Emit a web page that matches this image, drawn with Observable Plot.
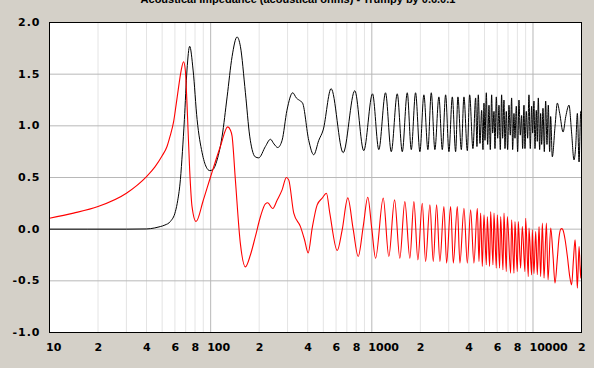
<!DOCTYPE html>
<html><head><meta charset="utf-8">
<script src="https://cdn.jsdelivr.net/npm/d3@7"></script>
<script src="https://cdn.jsdelivr.net/npm/@observablehq/plot@0.6"></script>
<style>
html,body{margin:0;padding:0;background:#d4d0c8;}
#chart{width:594px;height:368px;overflow:hidden;}
#chart svg{display:block;}
#chart g[aria-label="y-axis tick label"] text{letter-spacing:1px;}
</style></head><body><div id="chart"></div>
<script>
const titleText = "Acoustical Impedance (acoustical ohms) - Trumpy by 0.6.0.1";

const xTicks = [10,20,40,60,80,100,200,400,600,800,1000,2000,4000,6000,8000,10000,20000];
const xTickLabels = ["10","2","4","6","8","100","2","4","6","8","1000","2","4","6","8","10000","2"];
const yTicks = [-1,-0.5,0,0.5,1,1.5,2];
const yTickLabels = ["-1.0","-0.5","0.0","0.5","1.0","1.5","2.0"];
const xMinorGrid = [20,30,40,50,60,70,80,90,200,300,400,500,600,700,800,900,2000,3000,4000,5000,6000,7000,8000,9000];
const xMajorGrid = [100,1000,10000];

// black curve: [frequency Hz, value]
const blackCurve = [
[10,0],[30,0],[40,0.002],[45,0.012],[48.7,0.025],[52,0.04],[56.2,0.074],[60.4,0.17],[62.5,0.28],[64.9,0.48],
[66.8,0.75],[68.7,1.06],[71.3,1.54],[74.1,1.77],[77.8,1.54],[82.4,1.06],[88.5,0.74],[94,0.6],[98.6,0.567],[103,0.575],
[109.6,0.67],[117.8,0.9],[126.5,1.28],[135.8,1.67],[145.8,1.86],[152.9,1.77],[164.3,1.32],[174.7,0.9],[180.8,0.77],[189,0.7],
[198.7,0.69],[218.6,0.8],[234.9,0.87],[247,0.825],[260.7,0.79],[277.5,0.86],[297.4,1.15],[323,1.32],[340,1.27],[360.7,1.24],
[372,1.22],[406,0.86],[436,0.72],[468.7,0.86],[499,0.96],[559,1.36],[664,0.74],[784,1.34],[891,0.76],[1010,1.31],
[1105,0.77],[1216,1.32],[1320,0.75],[1438,1.31],[1545,0.75],[1659,1.32],[1757,0.77],[1868,1.32],[1987,0.75],[2104,1.3],
[2228,0.77],[2338,1.32],[2462,0.77],[2607,1.28],[2737,0.77],[2870,1.3],[3009,0.75],[3158,1.28],[3311,0.75],[3421,1.28],
[3592,0.77],[3729,1.28],[3913,0.76],[4045,1.3],[4240,0.78],[4407,1.27],[4490,0.8],[4578,1.3],[4689,0.83],[4802,1.15],
[4895,0.77],[4965,1.22],[5037,0.86],[5134,1.32],[5232,0.82],[5333,1.2],[5435,0.77],[5540,1.3],[5620,0.93],[5727,1.14],
[5810,0.78],[5922,1.28],[6035,0.88],[6151,1.2],[6269,0.77],[6389,1.3],[6482,0.88],[6606,1.25],[6702,0.78],[6830,1.14],
[6962,0.77],[7095,1.2],[7231,0.91],[7370,1.27],[7477,0.77],[7621,1.12],[7731,0.88],[7879,1.19],[8031,0.75],[8185,1.25],
[8342,0.91],[8502,1.1],[8625,0.78],[8791,1.2],[8918,0.78],[9089,1.14],[9264,0.88],[9442,1.3],[9623,0.78],[9808,1.19],
[9950,0.93],[10141,1.24],[10288,0.78],[10485,1.15],[10637,0.85],[10791,1.27],[10998,0.77],[11158,1.12],[11319,0.82],[11536,1.17],
[11758,0.75],[11984,1.24],[12214,0.82],[12448,1.2],[12690,0.75],[12870,1.09],[13180,0.7],[13696,0.99],[14164,1.22],[14650,1.12],
[15374,0.94],[15971,1.09],[16729,1.2],[17368,0.93],[17964,0.67],[18404,0.8],[18853,1.12],[19316,0.65],[19787,1.14],[20000,1.13]
];

// red curve: [frequency Hz, value]
const redCurve = [
[10,0.106],[14.1,0.155],[20,0.219],[30,0.348],[40,0.509],[45,0.6],[50,0.71],[53.6,0.8],[56,0.9],[58.9,1.04],
[61,1.2],[63.3,1.38],[65.5,1.53],[67.9,1.62],
[69.6,1.54],[71.3,1.22],[74.1,0.57],[76.6,0.22],[81.1,0.074],[90,0.28],[100,0.51],[114.9,0.8],[127.5,0.99],[132.5,0.96],
[135.8,0.9],[142.3,0.48],[152.9,-0.14],[164.3,-0.365],[176.4,-0.25],[189.5,-0.07],[203.6,0.12],[218.6,0.245],[226,0.255],[242.7,0.2],
[258.4,0.28],[277.5,0.38],[295,0.5],[305,0.477],[327.8,0.155],[360.7,0.025],[382,-0.1],[402.7,-0.23],[426.5,0.01],[458,0.235],
[492,0.3],[523,0.348],[548.6,0.155],[610,-0.207],[654.7,-0.007],[709.6,0.303],[766,0],[823,-0.265],[885,0.03],[944,0.309],
[1000,0],[1055,-0.281],[1177,0.3],[1275,-0.265],[1384,0.283],[1492,-0.281],[1603,0.267],[1722,-0.281],[1824,0.267],[1931,-0.297],
[2056,0.251],[2156,-0.313],[2293,0.235],[2406,-0.313],[2523,0.235],[2645,-0.313],[2801,0.219],[2911,-0.329],[3083,0.219],[3204,-0.329],
[3392,0.219],[3521,-0.329],[3729,0.203],[3913,-0.329],[4103,0.187],[4300,-0.329],[4515,0.203],[4622,-0.313],[4734,0.155],[4848,-0.361],
[4965,0.138],[5134,-0.345],[5207,0.122],[5384,-0.361],[5460,0.17],[5647,-0.345],[5727,0.155],[5922,-0.377],[6006,0.138],[6210,-0.377],
[6300,0.122],[6513,-0.393],[6606,0.155],[6830,-0.41],[6930,0.122],[7266,-0.426],[7370,0.09],[7621,-0.426],[7731,0.074],[7993,-0.41],
[8107,0.074],[8381,-0.377],[8584,0.025],[8918,-0.41],[9002,0.106],[9352,-0.458],[9442,0.01],[9808,-0.442],[9903,-0.006],[10141,-0.43],
[10395,-0.022],[10637,-0.44],[10904,0.025],[11158,-0.458],[11435,0.058],[11711,-0.474],[12109,0.058],[12401,-0.49],[12881,0.01],[13307,-0.25],
[13696,-0.522],[14164,-0.28],[14510,-0.08],[14864,0],[15083,0.005],[15374,-0.01],[15815,-0.1],[16349,-0.265],[16905,-0.458],[17368,-0.539],
[17821,-0.297],[18245,-0.103],[18597,-0.36],[18853,-0.571],[19316,-0.167],[19787,-0.474],[20000,-0.35]
];

const black = blackCurve.map(([f, v]) => ({f, v}));
const red = redCurve.map(([f, v]) => ({f, v}));
const xLabelMap = new Map(xTicks.map((t, i) => [t, xTickLabels[i]]));
const yLabelMap = new Map(yTicks.map((t, i) => [t, yTickLabels[i]]));

const chart = Plot.plot({
  width: 594, height: 368,
  marginLeft: 49, marginRight: 13, marginTop: 22, marginBottom: 36,
  style: {background: "#d4d0c8", fontFamily: "DejaVu Sans", fontSize: "11px", fontWeight: "bold", color: "black"},
  x: {type: "log", domain: [10, 20000], axis: null},
  y: {domain: [-1, 2]},
  marks: [
    Plot.frame({fill: "white"}),
    Plot.ruleX(xMinorGrid, {stroke: "#e4e4e4"}),
    Plot.ruleX(xMajorGrid, {stroke: "#b8b8b8"}),
    Plot.ruleY(yTicks, {stroke: "#b8b8b8"}),
    Plot.line(black, {x: "f", y: "v", stroke: "black", strokeWidth: 1, curve: "monotone-x"}),
    Plot.line(red, {x: "f", y: "v", stroke: "red", strokeWidth: 1.1, curve: "monotone-x"}),
    Plot.frame({stroke: "black"}),
    Plot.text(xTicks, {x: d => d, text: d => xLabelMap.get(d), frameAnchor: "bottom", lineAnchor: "top", dy: 11, textAnchor: "start", dx: -3.5}),
    Plot.axisY({ticks: yTicks, tickFormat: d => yLabelMap.get(d), tickSize: 0, tickPadding: 9, label: null}),
    Plot.text([titleText], {text: d => d, frameAnchor: "top", dx: -17.5, dy: -23, lineAnchor: "middle", fontFamily: "Liberation Sans", fontSize: 11, fontWeight: "bold"})
  ]
});
document.getElementById("chart").appendChild(chart);
</script>
</body></html>
